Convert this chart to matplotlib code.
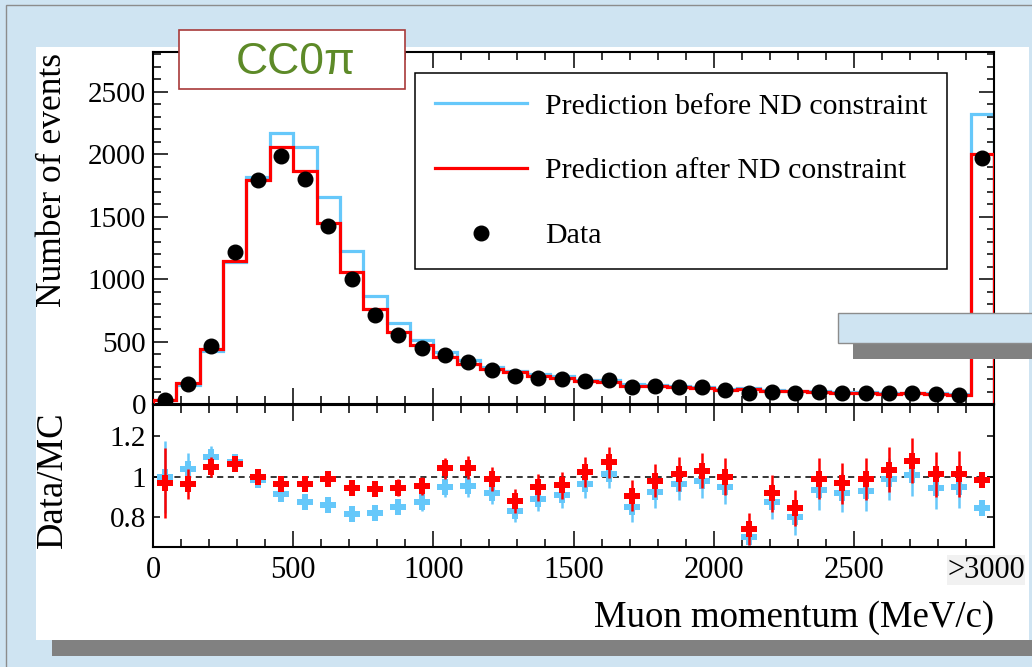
import numpy as np
import matplotlib
matplotlib.use("Agg")
import matplotlib.pyplot as plt
from matplotlib.patches import Rectangle
from matplotlib.lines import Line2D
from matplotlib.ticker import MultipleLocator, FixedLocator, NullLocator
import matplotlib.transforms as mtransforms

# ---------------------------------------------------------------------------
# Muon momentum spectrum, CC0pi sample (36 bins, last bin = overflow >3000)
# ---------------------------------------------------------------------------
bin_edges = np.linspace(0, 3000, 37)

data_counts = [32, 164, 467, 1219, 1792, 1983, 1802, 1430, 999, 714,
               552, 453, 395, 337, 278, 225, 214, 206, 188, 196,
               137, 145, 142, 136, 118, 90, 100, 88, 97, 92,
               92, 88, 95, 85, 78, 1967]

pred_before = [32, 158, 425, 1136, 1821, 2170, 2059, 1659, 1224, 870,
               649, 518, 417, 354, 302, 270, 240, 227, 195, 193,
               161, 157, 147, 139, 124, 128, 114, 110, 104, 100,
               99, 89, 94, 90, 82, 2325]

pred_after = [33, 170, 445, 1145, 1792, 2059, 1869, 1449, 1059, 761,
              583, 474, 379, 323, 281, 256, 226, 215, 184, 183,
              151, 148, 140, 132, 118, 121, 109, 104, 98, 95,
              93, 85, 88, 84, 77, 1999]

x_tick_values = [0, 500, 1000, 1500, 2000, 2500, 3000]
x_tick_labels = ["0", "500", "1000", "1500", "2000", "2500", ">3000"]
y_tick_values = [0, 500, 1000, 1500, 2000, 2500]
ratio_tick_values = [0.8, 1.0, 1.2]
ratio_tick_labels = ["0.8", "1", "1.2"]

legend_labels = ["Prediction before ND constraint",
                 "Prediction after ND constraint",
                 "Data"]
sample_name = "CC0\u03c0"

BLUE = "#66c8fa"
RED = "#ff0000"
SLIDE_BLUE = "#cfe4f2"
SHADOW = "#818181"

plt.rcParams["font.family"] = ["Liberation Serif", "DejaVu Serif"]

data = np.array(data_counts, dtype=float)
before = np.array(pred_before, dtype=float)
after = np.array(pred_after, dtype=float)
centers = 0.5 * (bin_edges[:-1] + bin_edges[1:])

ratio_before = data / before
ratio_after = data / after
err_before = np.sqrt(data) / before
err_after = np.sqrt(data) / after

W, H = 1032, 667
fig = plt.figure(figsize=(W / 100, H / 100), dpi=100, facecolor=SLIDE_BLUE)


def px_rect(x0, y0, x1, y1, **kw):
    """Rectangle in pixel coordinates measured from the top-left corner."""
    r = Rectangle((x0 / W, 1 - y1 / H), (x1 - x0) / W, (y1 - y0) / H,
                  transform=fig.transFigure, **kw)
    fig.add_artist(r)
    return r


# slide decorations behind the plot
px_rect(6, 5, 1060, 700, facecolor="none", edgecolor="#8c8c8c", lw=1.0, zorder=-10)
px_rect(52, 640, 1060, 656, facecolor=SHADOW, edgecolor="none", zorder=-9)
px_rect(36, 47, 1029, 640, facecolor="white", edgecolor="none", zorder=-8)

# ---------------------------------------------------------------------------
# axes
# ---------------------------------------------------------------------------
ax_l, ax_r = 153, 994
top_t, top_b = 52, 404.5
rat_b = 546.7
ax = fig.add_axes([ax_l / W, 1 - top_b / H, (ax_r - ax_l) / W, (top_b - top_t) / H])
rax = fig.add_axes([ax_l / W, 1 - rat_b / H, (ax_r - ax_l) / W, (rat_b - top_b) / H],
                   sharex=ax)

for a in (ax, rax):
    for s in a.spines.values():
        s.set_linewidth(1.5)

# upper panel: event distributions
ax.stairs(before, bin_edges, color=BLUE, lw=2.3, zorder=2)
ax.stairs(after, bin_edges, color=RED, lw=2.3, zorder=3)
ax.plot(centers, data, ls="none", marker="o", ms=10.5, color="black",
        zorder=4, clip_on=False)

ax.set_xlim(0, 3000)
ax.set_ylim(0, 2817)
ax.yaxis.set_major_locator(FixedLocator(y_tick_values))
ax.yaxis.set_minor_locator(MultipleLocator(100))
ax.xaxis.set_major_locator(FixedLocator(x_tick_values))
ax.xaxis.set_minor_locator(MultipleLocator(100))
ax.tick_params(which="both", direction="in", top=True, right=True,
               labelbottom=False, width=1.1)
ax.tick_params(axis="x", which="major", length=11.5)
ax.tick_params(axis="x", which="minor", length=5.8)
ax.tick_params(axis="y", which="major", length=10.8, labelsize=21, pad=5)
ax.tick_params(axis="y", which="minor", length=5.4)

ax.set_ylabel("Number of events", fontsize=25.5, va="center")
ax.yaxis.set_label_coords((52.3 - ax_l) / (ax_r - ax_l), (top_b - 180) / (top_b - top_t))

handles = [Line2D([], [], color=BLUE, lw=2.3),
           Line2D([], [], color=RED, lw=2.3),
           Line2D([], [], ls="none", marker="o", ms=10.5, color="black")]
leg = ax.legend(handles, legend_labels, loc="upper left",
                bbox_to_anchor=(415 / W, 1 - 73 / H), bbox_transform=fig.transFigure,
                borderaxespad=0, frameon=True, fancybox=False, edgecolor="black",
                framealpha=1, fontsize=21.5, borderpad=0.66, labelspacing=1.27,
                handlelength=3.1, handletextpad=0.6)
leg.get_frame().set_linewidth(1.1)

# lower panel: data / prediction
rax.axhline(1.0, color="black", lw=1.1, ls=(0, (4, 3)), zorder=1)
rax.errorbar(centers, ratio_before, yerr=err_before, fmt="P", color=BLUE,
             ms=11, mew=0, elinewidth=1.8, capsize=0, zorder=2)
rax.errorbar(centers, ratio_after, yerr=err_after, fmt="P", color=RED,
             ms=11, mew=0, elinewidth=1.8, capsize=0, zorder=3)

rax.set_ylim(0.655, 1.356)
rax.yaxis.set_major_locator(FixedLocator(ratio_tick_values))
rax.yaxis.set_minor_locator(NullLocator())
rax.set_yticklabels(ratio_tick_labels)
rax.set_xticks(x_tick_values)
rax.set_xticklabels(x_tick_labels)
rax.xaxis.set_minor_locator(MultipleLocator(100))
rax.tick_params(which="both", direction="in", top=True, right=True, width=1.1)
rax.tick_params(axis="x", which="major", length=11.5, labelsize=22, pad=6.5)
rax.tick_params(axis="x", which="minor", length=5.8)
rax.tick_params(axis="y", which="major", length=5, labelsize=21, pad=5)

last = rax.get_xticklabels()[-1]
last.set_bbox(dict(facecolor="#f1f1f1", edgecolor="none", pad=0.2))
last.set_transform(last.get_transform() +
                   mtransforms.ScaledTranslation(-8 / 100, 0, fig.dpi_scale_trans))

rax.set_ylabel("Data/MC", fontsize=26.5, va="center")
rax.yaxis.set_label_coords((52.9 - ax_l) / (ax_r - ax_l), (rat_b - 480) / (rat_b - top_b))

rax.set_xlabel("Muon momentum (MeV/c)", fontsize=26.5, ha="right", va="center")
rax.xaxis.set_label_coords(1.0, (rat_b - 618) / (rat_b - top_b))

# sample tag and slide overlays in front of the plot
px_rect(179, 30, 405, 88.7, facecolor="white", edgecolor="#a83a3a", lw=1.2, zorder=10)
fig.text(296 / W, 1 - 74 / H, sample_name, ha="center", va="baseline",
         fontsize=32, color="#5d8a28", family=["Liberation Sans", "DejaVu Sans"],
         zorder=11)
px_rect(852.7, 343.3, 1060, 359.3, facecolor=SHADOW, edgecolor="none", zorder=10)
px_rect(838, 313.3, 1060, 343.3, facecolor=SLIDE_BLUE, edgecolor="#8c8c8c",
        lw=1.0, zorder=11)

fig.savefig("out.png", dpi=100, facecolor=fig.get_facecolor())
